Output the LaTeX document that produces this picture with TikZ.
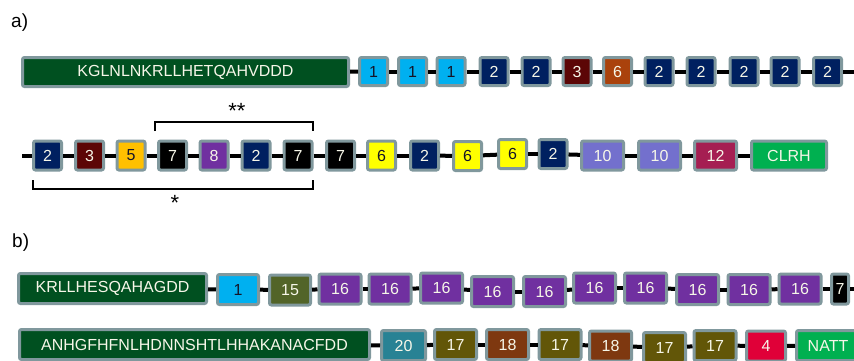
\documentclass[tikz,border=0pt]{standalone}
\usepackage{fontspec}
\setmainfont{Liberation Sans}

\definecolor{rim}{RGB}{128,152,157}
\definecolor{paper}{RGB}{246,246,232}
\definecolor{ink}{RGB}{20,20,40}
\definecolor{dkgreen}{RGB}{0,80,32}
\definecolor{skyblue}{RGB}{0,176,240}
\definecolor{navy}{RGB}{0,32,96}
\definecolor{maroon}{RGB}{92,6,6}
\definecolor{rust}{RGB}{170,66,12}
\definecolor{gold}{RGB}{255,192,0}
\definecolor{violet}{RGB}{112,48,160}
\definecolor{lemon}{RGB}{255,255,0}
\definecolor{lavender}{RGB}{115,112,205}
\definecolor{raspberry}{RGB}{165,30,82}
\definecolor{kelly}{RGB}{0,176,80}
\definecolor{moss}{RGB}{82,100,40}
\definecolor{teal}{RGB}{40,130,148}
\definecolor{olivebrown}{RGB}{98,86,8}
\definecolor{umber}{RGB}{126,56,16}
\definecolor{crimson}{RGB}{224,0,56}

\begin{document}
\begin{tikzpicture}[x=1pt,y=-1pt,
  dom/.style={draw=rim,line width=3pt,rounded corners=2pt,inner sep=0pt,
    font=\fontsize{16}{16}\selectfont,text=paper},
  sqa/.style={dom,minimum width=28pt,minimum height=28pt},
  sqb/.style={dom,minimum width=28pt,minimum height=29pt},
  wide/.style={dom,minimum width=42pt,minimum height=30pt},
  link/.style={line width=4pt},
  brace/.style={line width=2.5pt},
  tag/.style={font=\fontsize{19}{19}\selectfont,inner sep=0pt,anchor=base west},
  star/.style={font=\fontsize{22}{22}\selectfont,inner sep=0pt,anchor=base},
  dseq/.style={fill=dkgreen},
  d1/.style={fill=skyblue,text=ink},
  d2/.style={fill=navy},
  d3/.style={fill=maroon},
  d4/.style={fill=crimson},
  d5/.style={fill=gold,text=ink},
  d6r/.style={fill=rust},
  d6y/.style={fill=lemon,text=ink},
  d7/.style={fill=black},
  d8/.style={fill=violet},
  d10/.style={fill=lavender},
  d12/.style={fill=raspberry},
  d15/.style={fill=moss},
  d16/.style={fill=violet},
  d17/.style={fill=olivebrown},
  d18/.style={fill=umber},
  d20/.style={fill=teal},
  dend/.style={fill=kelly}]
\fill[white] (0,0) rectangle (854,360);
\useasboundingbox (0,0) rectangle (854,360);
\clip (0,0) rectangle (854,360);

% panel a, first line
\node[tag] (la) at (11,27) {a)};
\node[dom,dseq,minimum width=326pt,minimum height=29pt] (a0) at (185.5,72) {KGLNLNKRLLHETQAHVDDD};
\node[sqa,d1] (a1) at (373.5,71.5) {1};
\node[sqa,d1] (a2) at (412.5,71.5) {1};
\node[sqa,d1] (a3) at (451,71.5) {1};
\node[sqa,d2] (a4) at (494,71.5) {2};
\node[sqa,d2] (a5) at (536,71.5) {2};
\node[sqa,d3] (a6) at (577,71.5) {3};
\node[sqa,d6r] (a7) at (617.5,71.5) {6};
\node[sqa,d2] (a8) at (659,71.5) {2};
\node[sqa,d2] (a9) at (701,71.5) {2};
\node[sqa,d2] (a10) at (744,71.5) {2};
\node[sqa,d2] (a11) at (785,71.5) {2};
\node[sqa,d2] (a12) at (827.5,71.5) {2};
\coordinate (aend) at (856,71.5);
\draw (a0) edge[link] (a1) (a1) edge[link] (a2) (a2) edge[link] (a3)
  (a3) edge[link] (a4) (a4) edge[link] (a5) (a5) edge[link] (a6)
  (a6) edge[link] (a7) (a7) edge[link] (a8) (a8) edge[link] (a9)
  (a9) edge[link] (a10) (a10) edge[link] (a11) (a11) edge[link] (a12)
  (a12) edge[link] (aend);

% panel a, second line
\coordinate (bstart) at (22,155.5);
\node[sqb,d2] (b1) at (47.5,155.5) {2};
\node[sqb,d3] (b2) at (89.5,155.5) {3};
\node[sqb,d5] (b3) at (131,155.5) {5};
\node[sqb,d7] (b4) at (172.5,155.5) {7};
\node[sqb,d8] (b5) at (214,155.5) {8};
\node[sqb,d2] (b6) at (256,155.5) {2};
\node[sqb,d7] (b7) at (298,155.5) {7};
\node[sqb,d7] (b8) at (340.5,155.5) {7};
\node[sqb,d6y] (b9) at (381.5,155.5) {6};
\node[sqb,d2] (b10) at (424.5,155.5) {2};
\node[sqb,d6y] (b11) at (467.5,156) {6};
\node[sqb,d6y] (b12) at (512.5,154) {6};
\node[sqb,d2] (b13) at (553,154) {2};
\node[sqb,d10,minimum width=42pt] (b14) at (602.5,155.5) {10};
\node[sqb,d10,minimum width=42pt] (b15) at (659.5,155.5) {10};
\node[sqb,d12,minimum width=42pt] (b16) at (715.5,155.5) {12};
\node[sqb,dend,minimum width=75pt] (b17) at (789,155.5) {CLRH};
\draw (bstart) edge[link] (b1) (b1) edge[link] (b2)
  (b2) edge[link] (b3) (b3) edge[link] (b4) (b4) edge[link] (b5)
  (b5) edge[link] (b6) (b6) edge[link] (b7) (b7) edge[link] (b8)
  (b8) edge[link] (b9) (b9) edge[link] (b10) (b10) edge[link] (b11)
  (b11) edge[link] (b12) (b12) edge[link] (b13) (b13) edge[link] (b14)
  (b14) edge[link] (b15) (b15) edge[link] (b16) (b16) edge[link] (b17);

% repeat marks
\draw[brace] (155,131) -- (155,122) -- (313,122) -- (313,131);
\node[star] (twostar) at (237,118) {**};
\draw[brace] (33,180) -- (33,189) -- (313,189) -- (313,180);
\node[star] (onestar) at (175,210) {*};

% panel b, first line
\node[tag] (lb) at (12,247) {b)};
\node[dom,dseq,minimum width=188pt,minimum height=30pt] (c0) at (112.5,288.5) {KRLLHESQAHAGDD};
\node[wide,d1,minimum width=41pt] (c1) at (238,289.5) {1};
\node[wide,d15,minimum width=41pt] (c2) at (290,290) {15};
\node[wide,d16] (c3) at (340,289) {16};
\node[wide,d16] (c4) at (390,289) {16};
\node[wide,d16] (c5) at (441.5,288) {16};
\node[wide,d16] (c6) at (492.5,291.5) {16};
\node[wide,d16] (c7) at (544.5,291.5) {16};
\node[wide,d16] (c8) at (594.5,288) {16};
\node[wide,d16] (c9) at (645.5,288) {16};
\node[wide,d16] (c10) at (697.5,289.5) {16};
\node[wide,d16] (c11) at (749,289.5) {16};
\node[wide,d16] (c12) at (800,289) {16};
\node[wide,d7,minimum width=17pt] (c13) at (840,289) {7};
\coordinate (cend) at (856,289);
\draw (c0) edge[link] (c1) (c1) edge[link] (c2) (c2) edge[link] (c3)
  (c3) edge[link] (c4) (c4) edge[link] (c5) (c5) edge[link] (c6)
  (c6) edge[link] (c7) (c7) edge[link] (c8) (c8) edge[link] (c9)
  (c9) edge[link] (c10) (c10) edge[link] (c11) (c11) edge[link] (c12)
  (c12) edge[link] (c13) (c13) edge[link] (cend);

% panel b, second line
\node[dom,dseq,minimum width=350pt,minimum height=30pt] (e0) at (194.5,344.5) {ANHGFHFNLHDNNSHTLHHAKANACFDD};
\node[wide,d20,minimum width=44pt] (e1) at (403.5,345.5) {20};
\node[wide,d17] (e2) at (455.5,344.5) {17};
\node[wide,d18] (e3) at (507.5,344.5) {18};
\node[wide,d17] (e4) at (560,344.5) {17};
\node[wide,d18] (e5) at (610.5,346) {18};
\node[wide,d17] (e6) at (664.5,347.5) {17};
\node[wide,d17] (e7) at (715,345.5) {17};
\node[wide,d4,minimum width=39pt] (e8) at (766,346) {4};
\node[wide,dend,minimum width=63pt] (e9) at (828,345.5) {NATT};
\draw (e0) edge[link] (e1) (e1) edge[link] (e2) (e2) edge[link] (e3)
  (e3) edge[link] (e4) (e4) edge[link] (e5) (e5) edge[link] (e6)
  (e6) edge[link] (e7) (e7) edge[link] (e8) (e8) edge[link] (e9);
\end{tikzpicture}
\end{document}
